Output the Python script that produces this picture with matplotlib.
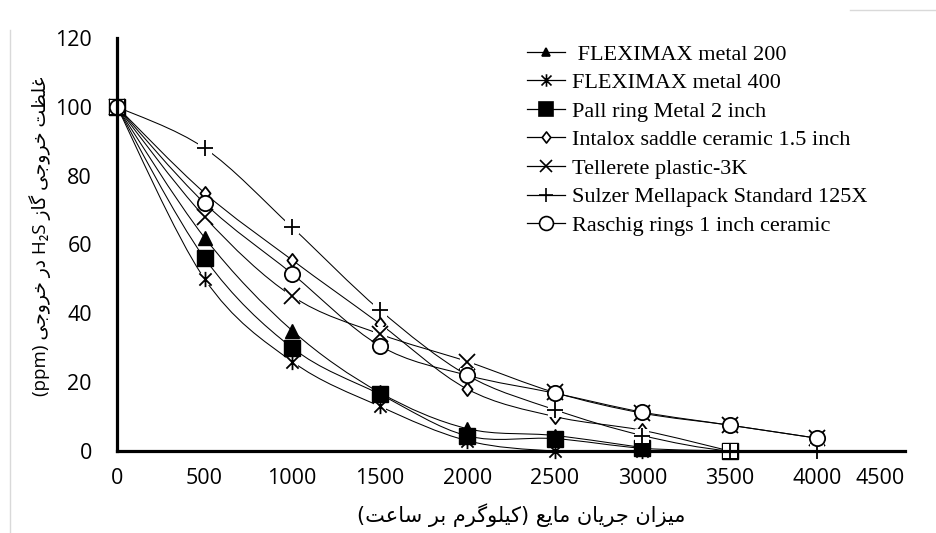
import numpy as np
import matplotlib
matplotlib.use("Agg")
import matplotlib.pyplot as plt
from matplotlib.path import Path
from matplotlib.patches import PathPatch
from matplotlib.lines import Line2D

# ---------------- data ----------------
x_all = [0, 500, 1000, 1500, 2000, 2500, 3000, 3500, 4000]

fleximax200 = [100, 62, 35, 17, 6.5, 4.5, 1]
fleximax400 = [100, 50, 26, 13, 3, 0, 0]
pall_ring = [100, 56, 30, 16.5, 4.4, 3.6, 0.8, 0]
intalox = [100, 75, 55.5, 37, 18, 10, 6, 0]
tellerete = [100, 68, 45, 34, 26, 17, 11, 7.5, 3.7]
sulzer = [100, 88, 65, 41, 22, 12, 4.5, 0, 0]
raschig = [100, 72, 51.5, 30.6, 22, 16.8, 11.3, 7.5, 3.7]

labels = [" FLEXIMAX metal 200", "FLEXIMAX metal 400", "Pall ring Metal 2 inch",
          "Intalox saddle ceramic 1.5 inch", "Tellerete plastic-3K",
          "Sulzer Mellapack Standard 125X", "Raschig rings 1 inch ceramic"]

xticks = [0, 500, 1000, 1500, 2000, 2500, 3000, 3500, 4000, 4500]
yticks = [0, 20, 40, 60, 80, 100, 120]

ylabel_logical = ["غلظت خروجی گاز ", "H₂S", " در خروجی ", "(ppm)"]
xlabel_logical = "میزان جریان مایع (کیلوگرم بر ساعت)"

# ---------------- simple Persian shaping ----------------
FORMS = {
    'ا': (0xFE8D, 0xFE8E), 'آ': (0xFE81, 0xFE82), 'د': (0xFEA9, 0xFEAA),
    'ذ': (0xFEAB, 0xFEAC), 'ر': (0xFEAD, 0xFEAE), 'ز': (0xFEAF, 0xFEB0),
    'ژ': (0xFB8A, 0xFB8B), 'و': (0xFEED, 0xFEEE),
    'ب': (0xFE8F, 0xFE90, 0xFE91, 0xFE92), 'ت': (0xFE95, 0xFE96, 0xFE97, 0xFE98),
    'ث': (0xFE99, 0xFE9A, 0xFE9B, 0xFE9C), 'ج': (0xFE9D, 0xFE9E, 0xFE9F, 0xFEA0),
    'ح': (0xFEA1, 0xFEA2, 0xFEA3, 0xFEA4), 'خ': (0xFEA5, 0xFEA6, 0xFEA7, 0xFEA8),
    'س': (0xFEB1, 0xFEB2, 0xFEB3, 0xFEB4), 'ش': (0xFEB5, 0xFEB6, 0xFEB7, 0xFEB8),
    'ص': (0xFEB9, 0xFEBA, 0xFEBB, 0xFEBC), 'ض': (0xFEBD, 0xFEBE, 0xFEBF, 0xFEC0),
    'ط': (0xFEC1, 0xFEC2, 0xFEC3, 0xFEC4), 'ظ': (0xFEC5, 0xFEC6, 0xFEC7, 0xFEC8),
    'ع': (0xFEC9, 0xFECA, 0xFECB, 0xFECC), 'غ': (0xFECD, 0xFECE, 0xFECF, 0xFED0),
    'ف': (0xFED1, 0xFED2, 0xFED3, 0xFED4), 'ق': (0xFED5, 0xFED6, 0xFED7, 0xFED8),
    'ل': (0xFEDD, 0xFEDE, 0xFEDF, 0xFEE0), 'م': (0xFEE1, 0xFEE2, 0xFEE3, 0xFEE4),
    'ن': (0xFEE5, 0xFEE6, 0xFEE7, 0xFEE8), 'ه': (0xFEE9, 0xFEEA, 0xFEEB, 0xFEEC),
    'پ': (0xFB56, 0xFB57, 0xFB58, 0xFB59), 'چ': (0xFB7A, 0xFB7B, 0xFB7C, 0xFB7D),
    'ک': (0xFB8E, 0xFB8F, 0xFB90, 0xFB91), 'گ': (0xFB92, 0xFB93, 0xFB94, 0xFB95),
    'ی': (0xFBFC, 0xFBFD, 0xFBFE, 0xFBFF),
}


def shape(s):
    out = []
    n = len(s)
    for i, c in enumerate(s):
        if c not in FORMS:
            out.append(c)
            continue
        f = FORMS[c]
        prev = s[i - 1] if i > 0 else None
        nxt = s[i + 1] if i < n - 1 else None
        join_prev = prev in FORMS and len(FORMS[prev]) == 4
        join_next = len(f) == 4 and nxt in FORMS
        if join_prev and join_next:
            out.append(chr(f[3]))
        elif join_prev:
            out.append(chr(f[1]))
        elif join_next:
            out.append(chr(f[2]))
        else:
            out.append(chr(f[0]))
    return "".join(out)


def rtl(s):
    r = shape(s)[::-1]
    return r.translate(str.maketrans("()", ")("))


def visual(runs):
    vis = []
    for r in runs:
        if any(ch in FORMS for ch in r):
            vis.append(rtl(r))
        else:
            vis.append(r)
    return "".join(vis[::-1])


# ---------------- figure ----------------
fig = plt.figure(figsize=(9.37, 5.33), dpi=100)
ax = fig.add_axes([117 / 937, 1 - 451 / 533, (905 - 117) / 937, (451 - 38) / 533])

ax.set_xlim(0, 4500)
ax.set_ylim(0, 120)


def smooth_path(xs, ys):
    P = np.column_stack([xs, ys]).astype(float)
    n = len(P)
    verts = [P[0]]
    codes = [Path.MOVETO]
    for i in range(n - 1):
        p0 = P[i - 1] if i > 0 else P[i]
        p1 = P[i]
        p2 = P[i + 1]
        p3 = P[i + 2] if i + 2 < n else P[i + 1]
        c1 = p1 + (p2 - p0) / 6.0
        c2 = p2 - (p3 - p1) / 6.0
        verts += [c1, c2, p2]
        codes += [Path.CURVE4] * 3
    return Path(verts, codes)


star_path = Path([(0, -1), (0, 1), (-0.8, -0.8), (0.8, 0.8), (-0.8, 0.8), (0.8, -0.8)],
                 [Path.MOVETO, Path.LINETO, Path.MOVETO, Path.LINETO, Path.MOVETO, Path.LINETO])
diamond_path = Path([(0, 1), (0.77, 0), (0, -1), (-0.77, 0), (0, 1)],
                    [Path.MOVETO, Path.LINETO, Path.LINETO, Path.LINETO, Path.CLOSEPOLY])

series = [fleximax200, fleximax400, pall_ring, intalox, tellerete, sulzer, raschig]
styles = [
    dict(marker='^', ms=10, mfc='black', mec='black', mew=1.0, box=False),
    dict(marker=star_path, ms=11, mfc='none', mec='black', mew=1.3, box=True),
    dict(marker='s', ms=11, mfc='black', mec='black', mew=1.0, box=False),
    dict(marker=diamond_path, ms=9.5, mfc='white', mec='black', mew=1.3, box=False),
    dict(marker='x', ms=11.5, mfc='none', mec='black', mew=1.3, box=True),
    dict(marker='+', ms=11.5, mfc='none', mec='black', mew=1.3, box=True),
    dict(marker='o', ms=11, mfc='white', mec='black', mew=1.3, box=False),
]

for vals in series:
    xs = x_all[:len(vals)]
    patch = PathPatch(smooth_path(xs, vals), facecolor='none', edgecolor='black',
                      lw=0.75, zorder=2, clip_on=True)
    ax.add_patch(patch)

for i, (vals, st) in enumerate(zip(series, styles)):
    xs = x_all[:len(vals)]
    if st['box']:
        ax.plot(xs, vals, linestyle='none', marker='s', ms=st['ms'] * 0.85,
                mfc='white', mec='white', mew=0, zorder=3 + 2 * i, clip_on=False)
    ax.plot(xs, vals, linestyle='none', marker=st['marker'], ms=st['ms'],
            mfc=st['mfc'], mec=st['mec'], mew=st['mew'], zorder=4 + 2 * i, clip_on=False)

# spines
for s in ['top', 'right']:
    ax.spines[s].set_visible(False)
for s in ['left', 'bottom']:
    ax.spines[s].set_linewidth(2.3)
    ax.spines[s].set_zorder(20)

tick_font = dict(family=['Open Sans', 'DejaVu Sans'], size=15.5)
ax.set_xticks(xticks)
ax.set_yticks(yticks)
ax.set_xticklabels([str(v) for v in xticks], fontdict=tick_font)
ax.set_yticklabels([str(v) for v in yticks], fontdict=tick_font)
ax.get_xticklabels()[-1].set_horizontalalignment('right')
ax.tick_params(axis='x', length=0, pad=12)
ax.tick_params(axis='y', length=0, pad=18)

fig.text(521 / 937, 1 - 515 / 533, visual([xlabel_logical]), ha='center', va='center',
         family=['DejaVu Sans'], size=15)
fig.text(40 / 937, 1 - 236 / 533, visual(ylabel_logical), ha='center', va='center',
         rotation=90, family=['Open Sans', 'DejaVu Sans'], size=13.5)

# legend
leg_sizes = [6, 9, 10, 8, 9, 10, 10]
handles = []
for st, ls in zip(styles, leg_sizes):
    handles.append(Line2D([0], [0], color='black', lw=0.9, marker=st['marker'], ms=ls,
                          mfc=st['mfc'], mec=st['mec'], mew=1.2))
leg = fig.legend(handles, labels, loc='upper left', bbox_to_anchor=(527 / 937, 1 - 44 / 533),
                 frameon=False, borderpad=0, borderaxespad=0, handlelength=1.7,
                 handletextpad=0.32, labelspacing=0.36,
                 prop=dict(family='Liberation Serif', size=16))

# faint outer border remnants
fig.add_artist(Line2D([10 / 937, 10 / 937], [0, 1 - 30 / 533], color='#d9d9d9', lw=1.0))
fig.add_artist(Line2D([850 / 937, 1], [1 - 10 / 533, 1 - 10 / 533], color='#d9d9d9', lw=1.0))

fig.savefig("out.png", dpi=100)
